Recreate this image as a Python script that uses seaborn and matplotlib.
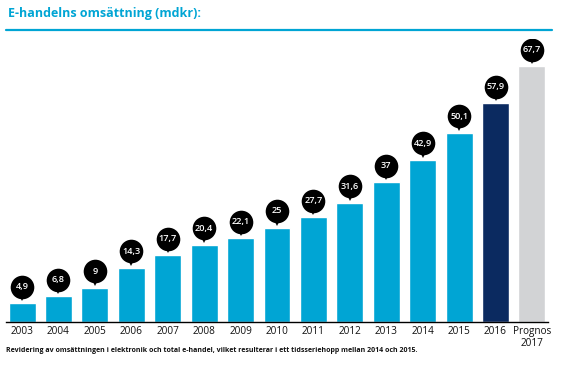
import pandas as pd
import matplotlib.pyplot as plt
import seaborn as sns
from matplotlib.lines import Line2D

# Data
kategorier = ['2003', '2004', '2005', '2006', '2007', '2008', '2009', '2010',
              '2011', '2012', '2013', '2014', '2015', '2016', 'Prognos\n2017']
omsattning = [4.9, 6.8, 9, 14.3, 17.7, 20.4, 22.1, 25, 27.7, 31.6, 37, 42.9, 50.1, 57.9, 67.7]
etiketter = ['4,9', '6,8', '9', '14,3', '17,7', '20,4', '22,1', '25', '27,7', '31,6',
             '37', '42,9', '50,1', '57,9', '67,7']

cyan = '#00a5d4'
farger = [cyan] * 13 + ['#0b2a60', '#d2d3d5']

sns.set_theme(style='white')
plt.rcParams['font.family'] = ['Open Sans', 'DejaVu Sans']

df = pd.DataFrame({'ar': kategorier, 'varde': omsattning})

fig = plt.figure(figsize=(5.66, 3.66), dpi=100)
# axes placed in pixel terms: x 6..548, baseline at y=322, top at 38.5
ax = fig.add_axes([6 / 566, 1 - 322 / 366, 542 / 566, 283.5 / 366])

sns.barplot(data=df, x='ar', y='varde', hue='ar', palette=farger, legend=False,
            width=0.74, ax=ax, saturation=1)

ax.set_xlim(-0.44, 14.44)
ax.set_ylim(0, 75)
ax.set_xlabel('')
ax.set_ylabel('')
ax.set_yticks([])
ax.tick_params(axis='x', length=0, pad=3, labelsize=7.2, colors='#111111')
for lbl in ax.get_xticklabels():
    lbl.set_linespacing(1.15)
    lbl.set_verticalalignment('top')
for s in ['top', 'right', 'left']:
    ax.spines[s].set_visible(False)
ax.spines['bottom'].set_color('black')
ax.spines['bottom'].set_linewidth(1.0)

# Pins med värden ovanför staplarna
px = 283.5 / 75  # pixels per unit
for i, (v, t) in enumerate(zip(omsattning, etiketter)):
    yc = v + 16.5 / px
    ax.plot(i, v + 6 / px, marker='v', markersize=6, color='black', markeredgewidth=0, zorder=4)
    ax.plot(i, yc, marker='o', markersize=17, color='black', markeredgewidth=0, zorder=5)
    ax.text(i, yc, t, ha='center', va='center', color='white', fontsize=6.6,
            fontweight='semibold', zorder=6)

# Titel och linje
fig.text(8 / 566, 1 - 14 / 366, 'E-handelns omsättning (mdkr):', color=cyan,
         fontsize=9.0, fontweight='bold', va='center', ha='left')
fig.add_artist(Line2D([6 / 566, 552 / 566], [1 - 29.5 / 366, 1 - 29.5 / 366],
                      color=cyan, linewidth=1.6, transform=fig.transFigure))

# Fotnot
fig.text(6 / 566, 1 - 350 / 366,
         'Revidering av omsättningen i elektronik och total e-handel, vilket resulterar i ett tidsseriehopp mellan 2014 och 2015.',
         fontsize=5.05, fontweight='bold', color='#111111', va='center', ha='left')

plt.savefig('out.png', dpi=100)
